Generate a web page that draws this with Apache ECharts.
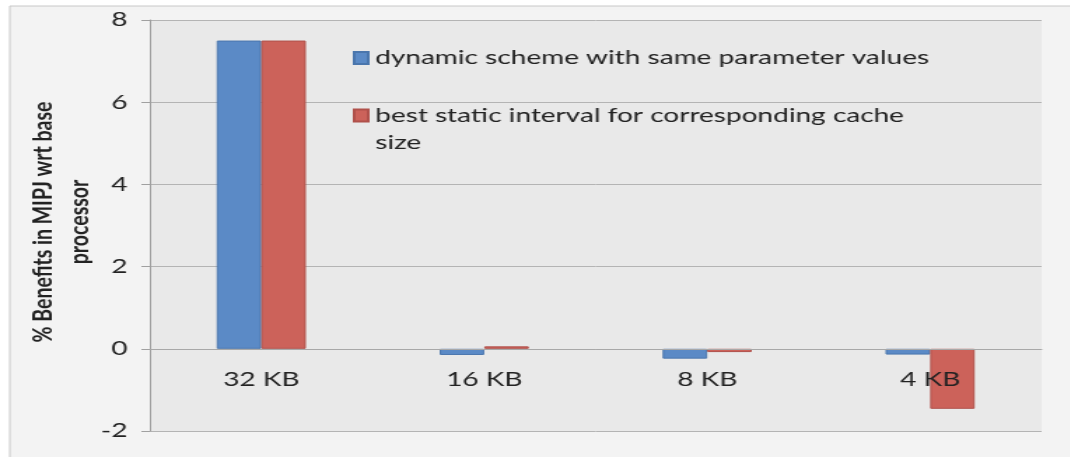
<!DOCTYPE html>
<html>
<head>
<meta charset="utf-8">
<script src="https://cdn.jsdelivr.net/npm/echarts@6/dist/echarts.min.js"></script>
<style>
  html, body { margin: 0; padding: 0; background: #ffffff; }
  /* the chart is laid out on a narrower canvas and widened horizontally */
  #chart { width: 764px; height: 457px; transform: scaleX(1.4); transform-origin: 0 0; }
</style>
</head>
<body>
<div id="chart"></div>
<script>
// cache sizes on the x axis
const categories = ['32 KB', '16 KB', '8 KB', '4 KB'];
// % benefit in MIPJ relative to the base processor
const dynamicScheme = [7.5, -0.15, -0.24, -0.14];
const bestStatic = [7.5, 0.06, -0.08, -1.46];
// series names and legend wording
const seriesNames = [
  'dynamic scheme with same parameter values',
  'best static interval for corresponding cache size'
];
const legendTexts = [
  'dynamic scheme with same parameter values',
  // leading blank line keeps the swatch level with the first text line
  '\nbest static interval for corresponding cache\nsize'
];
// value axis ticks
const yTicks = { min: -2, max: 8, step: 2 };
// value axis title, one entry per line
const yTitleLines = ['% Benefits in MIPJ wrt base', 'processor'];

const FONT = 'Lato, "Open Sans", sans-serif';
const chart = echarts.init(document.getElementById('chart'));

// rotated title lines, reading bottom-up, stacked left to right
const titleTexts = yTitleLines.map((line, i) => ({
  type: 'text',
  silent: true,
  x: 31 + i * 26, y: 222,
  rotation: Math.PI / 2,
  style: {
    text: line,
    fill: '#222',
    font: 'bold 19.5px ' + FONT,
    width: 600,
    overflow: 'none',
    align: 'center',
    verticalAlign: 'middle'
  }
}));

chart.setOption({
  animation: false,
  textStyle: { fontFamily: FONT },
  graphic: [{
    type: 'rect',
    z: -10,
    silent: true,
    shape: { x: 7, y: 6, width: 780, height: 460 },
    style: { fill: '#f3f3f3', stroke: '#c8c8c8', lineWidth: 1 }
  }].concat(titleTexts),
  grid: {
    left: 107, right: 20, top: 20, bottom: 26,
    containLabel: false,
    outerBoundsMode: 'none',
    show: true,
    backgroundColor: '#e9e9e9',
    borderWidth: 0
  },
  legend: [{
    data: [seriesNames[0]],
    orient: 'vertical',
    left: 252, top: 46, padding: 0,
    itemWidth: 10, itemHeight: 12, itemGap: 0,
    icon: 'rect',
    formatter: () => legendTexts[0],
    textStyle: { fontSize: 20, lineHeight: 24, color: '#222', fontFamily: FONT }
  }, {
    data: [seriesNames[1]],
    orient: 'vertical',
    left: 252, top: 75, padding: 0,
    itemWidth: 10, itemHeight: 12, itemGap: 0,
    icon: 'rect',
    formatter: () => legendTexts[1],
    textStyle: { fontSize: 20, lineHeight: 27, color: '#222', fontFamily: FONT }
  }],
  xAxis: {
    type: 'category',
    data: categories,
    z: 5,
    axisLine: { onZero: false, lineStyle: { color: '#a8a8a8', width: 1 } },
    axisTick: { show: false },
    axisLabel: { fontSize: 20, color: '#222', margin: 21, fontFamily: FONT }
  },
  yAxis: {
    type: 'value',
    min: yTicks.min, max: yTicks.max, interval: yTicks.step,
    axisLine: { show: true, lineStyle: { color: '#a0a0a0', width: 1 } },
    axisTick: { show: true, length: 6, lineStyle: { color: '#a0a0a0' } },
    splitLine: { lineStyle: { color: '#b4b4b4', width: 1 } },
    axisLabel: { fontSize: 20, color: '#222', margin: 16, fontFamily: FONT }
  },
  series: [{
    name: seriesNames[0],
    type: 'bar',
    data: dynamicScheme,
    barGap: '0%',
    barCategoryGap: '60%',
    itemStyle: { color: '#5b8ac6', borderColor: '#4a76ad', borderWidth: 1 }
  }, {
    name: seriesNames[1],
    type: 'bar',
    data: bestStatic,
    barGap: '0%',
    barCategoryGap: '60%',
    itemStyle: { color: '#cc625a', borderColor: '#b0514b', borderWidth: 1 }
  }]
});

// lift the category axis (line and labels) from the grid bottom to the value 0
const zeroY = chart.convertToPixel({ yAxisIndex: 0 }, 0);
const bottomY = chart.convertToPixel({ yAxisIndex: 0 }, yTicks.min);
chart.setOption({ xAxis: { offset: -(bottomY - zeroY) } });
</script>
</body>
</html>
